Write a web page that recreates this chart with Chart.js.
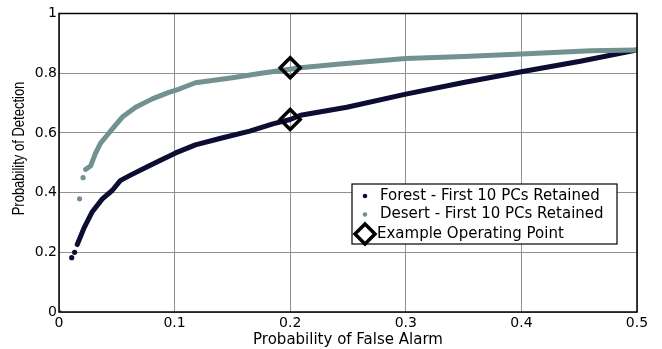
<!DOCTYPE html>
<html>
<head>
<meta charset="utf-8">
<script src="https://cdn.jsdelivr.net/npm/chart.js@4/dist/chart.umd.min.js"></script>
<style>
    html, body { margin: 0; padding: 0; background: #fff; }
    #wrap { width: 662px; height: 349px; position: relative; }
</style>
</head>
<body>
<div id="wrap"><canvas id="roc"></canvas></div>
<script>
const FOREST = "#0d0d33";
const DESERT = "#719290";

// isolated leading dots and the dense part of each curve
const forestLeadX = [0.011, 0.0135];
const forestLeadY = [0.182, 0.2];
const forestX = [0.0158, 0.0216, 0.0288, 0.0375, 0.046, 0.053, 0.0606, 0.072, 0.0865, 0.1009, 0.118, 0.14, 0.165, 0.185, 0.2, 0.209, 0.249, 0.3, 0.35, 0.4, 0.451, 0.5];
const forestY = [0.226, 0.281, 0.336, 0.379, 0.407, 0.44, 0.456, 0.478, 0.506, 0.533, 0.56, 0.582, 0.606, 0.63, 0.645, 0.659, 0.686, 0.73, 0.769, 0.805, 0.84, 0.878];

const desertLeadX = [0, 0.0178, 0.0208];
const desertLeadY = [0, 0.379, 0.45];
const desertX = [0.023, 0.0273, 0.0317, 0.036, 0.0418, 0.0476, 0.0548, 0.0663, 0.0807, 0.095, 0.104, 0.118, 0.15, 0.175, 0.2087, 0.243, 0.3, 0.35, 0.4, 0.46, 0.5];
const desertY = [0.478, 0.489, 0.533, 0.566, 0.593, 0.62, 0.653, 0.686, 0.714, 0.736, 0.747, 0.768, 0.785, 0.8, 0.818, 0.831, 0.849, 0.856, 0.864, 0.875, 0.878];

const opX = [0.2, 0.2];
const opY = [0.645, 0.818];

const xTicks = [0, 0.1, 0.2, 0.3, 0.4, 0.5];
const xTickLabels = ["0", "0.1", "0.2", "0.3", "0.4", "0.5"];
const yTicks = [0, 0.2, 0.4, 0.6, 0.8, 1];
const yTickLabels = ["0", "0.2", "0.4", "0.6", "0.8", "1"];

const legendLabels = ["Forest - First 10 PCs Retained", "Desert - First 10 PCs Retained", "Example Operating Point"];
const yTitle = "Probability of Detection";

const pts = (xs, ys) => xs.map((x, i) => ({ x: x, y: ys[i] }));

const FONT = "'DejaVu Sans', sans-serif";

const framePlugin = {
    id: "frame",
    afterDraw(chart) {
        const { ctx, chartArea: a } = chart;
        ctx.save();
        ctx.strokeStyle = "#000";
        ctx.lineWidth = 1.5;
        ctx.strokeRect(a.left, a.top, a.right - a.left, a.bottom - a.top);
        // y axis title, a little above the axis middle like the source
        ctx.translate(20, 148.5);
        ctx.rotate(-Math.PI / 2);
        ctx.scale(1, 1.2);
        ctx.font = "13px 'Liberation Sans', Arial, sans-serif";
        ctx.fillStyle = "#000";
        ctx.textAlign = "center";
        ctx.textBaseline = "middle";
        ctx.fillText(yTitle, 0, 0);
        ctx.restore();
    },
};

const boxLegend = {
    id: "boxLegend",
    afterDraw(chart) {
        const ctx = chart.ctx;
        const x0 = 352, y0 = 184, w = 265, h = 60;
        ctx.save();
        ctx.fillStyle = "#fff";
        ctx.fillRect(x0, y0, w, h);
        ctx.strokeStyle = "#000";
        ctx.lineWidth = 1.2;
        ctx.strokeRect(x0, y0, w, h);
        ctx.font = "15px " + FONT;
        ctx.textBaseline = "middle";
        const rows = [196, 214.5, 234];
        const colors = [FOREST, DESERT];
        for (let i = 0; i < 2; i++) {
            ctx.beginPath();
            ctx.arc(365, rows[i], 2.3, 0, Math.PI * 2);
            ctx.fillStyle = colors[i];
            ctx.fill();
        }
        // diamond marker
        ctx.beginPath();
        ctx.moveTo(365, rows[2] - 10);
        ctx.lineTo(375, rows[2]);
        ctx.lineTo(365, rows[2] + 10);
        ctx.lineTo(355, rows[2]);
        ctx.closePath();
        ctx.fillStyle = "#fff";
        ctx.fill();
        ctx.lineWidth = 3.5;
        ctx.strokeStyle = "#000";
        ctx.stroke();
        ctx.fillStyle = "#000";
        legendLabels.forEach((t, i) => ctx.fillText(t, i === 2 ? 377 : 380, rows[i]));
        ctx.restore();
    },
};

const setTicks = (values) => (scale) => {
    scale.ticks = values.map((v) => ({ value: v }));
};

new Chart(document.getElementById("roc"), {
    type: "scatter",
    data: {
        datasets: [
            {
                data: pts(forestX, forestY),
                showLine: true,
                borderColor: FOREST,
                borderWidth: 5,
                borderCapStyle: "round",
                borderJoinStyle: "round",
                pointRadius: 0,
                order: 3,
            },
            {
                data: pts(forestLeadX, forestLeadY),
                backgroundColor: FOREST,
                borderWidth: 0,
                pointRadius: 2.6,
                order: 3,
            },
            {
                data: pts(desertX, desertY),
                showLine: true,
                borderColor: DESERT,
                borderWidth: 5,
                borderCapStyle: "round",
                borderJoinStyle: "round",
                pointRadius: 0,
                order: 2,
            },
            {
                data: pts(desertLeadX, desertLeadY),
                backgroundColor: DESERT,
                borderWidth: 0,
                pointRadius: 2.6,
                order: 2,
            },
            {
                data: pts(opX, opY),
                pointStyle: "rectRot",
                pointRadius: 10,
                borderWidth: 3.5,
                borderColor: "#000",
                backgroundColor: "rgba(0,0,0,0)",
                order: 1,
            },
        ],
    },
    options: {
        responsive: true,
        maintainAspectRatio: false,
        animation: false,
        layout: { padding: { left: 0, right: 25, top: 8, bottom: 0 } },
        plugins: {
            legend: { display: false },
            tooltip: { enabled: false },
        },
        scales: {
            x: {
                type: "linear",
                min: 0,
                max: 0.5,
                afterBuildTicks: setTicks(xTicks),
                afterFit: (s) => { s.height = 37; },
                grid: { color: "#909090", lineWidth: 1, drawTicks: false },
                border: { display: false },
                ticks: {
                    color: "#000",
                    font: { family: FONT, size: 14 },
                    padding: 3,
                    maxRotation: 0,
                    autoSkip: false,
                    callback: (v) => xTickLabels[xTicks.indexOf(v)],
                },
                title: {
                    display: true,
                    text: "Probability of False Alarm",
                    color: "#000",
                    font: { family: FONT, size: 15 },
                    padding: { top: -4, bottom: 0 },
                },
            },
            y: {
                type: "linear",
                min: 0,
                max: 1,
                afterBuildTicks: setTicks(yTicks),
                afterFit: (s) => { s.width = 59; },
                grid: { color: "#909090", lineWidth: 1, drawTicks: false },
                border: { display: false },
                ticks: {
                    color: "#000",
                    font: { family: FONT, size: 14 },
                    padding: 2,
                    autoSkip: false,
                    callback: (v) => yTickLabels[yTicks.indexOf(v)],
                },
            },
        },
    },
    plugins: [framePlugin, boxLegend],
});
</script>
</body>
</html>
